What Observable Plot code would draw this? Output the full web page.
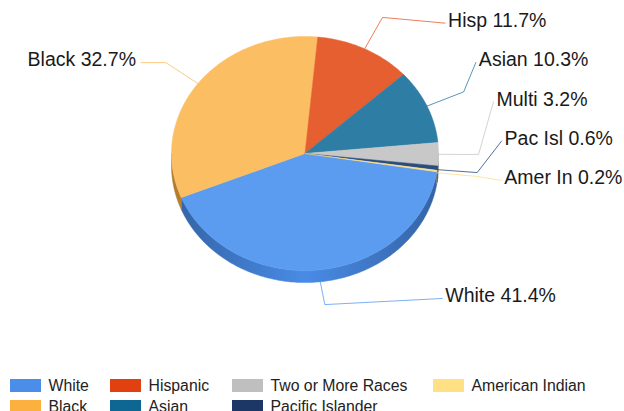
<!DOCTYPE html>
<html><head><meta charset="utf-8">
<script src="https://cdn.jsdelivr.net/npm/d3@7"></script>
<script src="https://cdn.jsdelivr.net/npm/@observablehq/plot@0.6"></script>
<style>
body{margin:0;background:#fff;font-family:"Liberation Sans",Arial,sans-serif;}
#chart svg{display:block;}
#legend{position:relative;width:624px;height:41px;overflow:hidden;}
.item{position:absolute;display:flex;align-items:center;height:13px;}
.sw{width:31px;height:13px;margin-right:7.5px;}
.lt{font-size:15.8px;line-height:13px;color:#222;white-space:nowrap;}
</style></head><body>
<div id="chart"></div>
<div id="legend"></div>
<script>
// ---- data ----
const categories = ["White","Black","Hispanic","Asian","Two or More Races","Pacific Islander","American Indian"];
const shortLabels = ["White","Black","Hisp","Asian","Multi","Pac Isl","Amer In"];
const percents = [41.4, 32.7, 11.7, 10.3, 3.2, 0.6, 0.2];
const legendRows = [[0,2,4,6],[1,3,5]];
// ---- styles ----
const topColors = ["#5b9cf0","#fbbe62","#e55f31","#2e7da5","#c8c8c8","#2b4c80","#fde08a"];
const swatchColors = ["#4a8eea","#fbb040","#e0410e","#0e6693","#bfbfbf","#1c3766","#ffe083"];
const legendCols = [10, 110, 232, 433];
const legendTops = [9, 30];

// ---- geometry (in unit-ellipse coordinates) ----
const startAngle = 99;     // degrees clockwise from 12 o'clock
const depth = 0.103;       // side wall thickness in y units
const elbowR = 1.3;
const lbl = {cx: 0.026, rx: 1.453, cy: -0.051, ry: 1.641, gap: 0.336, top: 1.114, bottom: -1.239};

const total = d3.sum(percents);
let acc = startAngle;
const slices = percents.map((p, i) => {
  const a0 = acc, a1 = acc + p / total * 360; acc = a1;
  return {i, a0, a1, mid: (a0 + a1) / 2};
});
const rad = d => d * Math.PI / 180;
const pt = (a, r = 1, dy = 0) => ({x: r * Math.sin(rad(a)), y: r * Math.cos(rad(a)) + dy});
function arcPts(a0, a1, r = 1, dy = 0) {
  const n = Math.max(2, Math.ceil((a1 - a0) / 1));
  return d3.range(n + 1).map(k => pt(a0 + (a1 - a0) * k / n, r, dy));
}

// side walls (front half only)
const windows = [[90, 270], [450, 630]];
const sideMarks = [];
slices.forEach(s => windows.forEach(([w0, w1]) => {
  const a = Math.max(s.a0, w0), b = Math.min(s.a1, w1);
  if (a >= b) return;
  const poly = [...arcPts(a, b, 1, 0), ...arcPts(a, b, 1, -depth).reverse()];
  sideMarks.push(Plot.line(poly, {x: "x", y: "y", fill: `url(#side${s.i})`, stroke: `url(#side${s.i})`, strokeWidth: 0.5}));
}));

// top faces
const topMarks = slices.map(s => Plot.line(
  [{x: 0, y: 0}, ...arcPts(s.a0, s.a1), {x: 0, y: 0}],
  {x: "x", y: "y", fill: topColors[s.i], stroke: topColors[s.i], strokeWidth: 0.5}));

// labels layout
const labels = slices.map(s => {
  const c = Math.cos(rad(s.mid));
  const dy = -depth * Math.max(0, -c);
  const anchor = pt(s.mid, 1, dy);
  const elbow = pt(s.mid, elbowR);
  return {i: s.i, anchor, elbow, side: Math.sin(rad(s.mid)) >= 0 ? "right" : "left", y: elbow.y,
          text: `${shortLabels[s.i]} ${percents[s.i].toFixed(1)}%`};
});
["right", "left"].forEach(side => {
  const L = labels.filter(d => d.side === side).sort((a, b) => a.y - b.y); // bottom to top
  L.forEach(d => d.y = Math.max(lbl.bottom, Math.min(lbl.top, d.y)));
  for (let k = 1; k < L.length; k++) L[k].y = Math.max(L[k].y, L[k - 1].y + lbl.gap);
  for (let k = L.length - 1; k >= 0; k--) {
    if (k === L.length - 1) L[k].y = Math.min(L[k].y, lbl.top);
    else L[k].y = Math.min(L[k].y, L[k + 1].y - lbl.gap);
  }
  L.forEach(d => {
    const t = (d.y - lbl.cy) / lbl.ry;
    const off = lbl.rx * Math.sqrt(Math.max(0, 1 - t * t));
    d.x = side === "right" ? lbl.cx + off : lbl.cx - off;
  });
});
const leaderMarks = labels.map(d => Plot.line(
  [d.anchor, d.elbow, {x: d.x, y: d.y}],
  {x: "x", y: "y", stroke: topColors[d.i], strokeWidth: 1, strokeOpacity: 0.8}));

const textOpts = {x: "x", y: "y", text: "text", fontSize: 19.5, fill: "#1a1a1a", dy: -2.5,
                  fontFamily: "Liberation Sans, Arial, sans-serif"};

const plot = Plot.plot({
  width: 624, height: 370, margin: 0,
  x: {domain: [-1, 1], range: [171, 438], axis: null},
  y: {domain: [-1, 1], range: [270, 36], axis: null},
  style: {background: "white", fontFamily: "Liberation Sans, Arial, sans-serif", overflow: "visible"},
  marks: [
    ...sideMarks,
    ...topMarks,
    ...leaderMarks,
    Plot.text(labels.filter(d => d.side === "right"), {...textOpts, textAnchor: "start", dx: 3}),
    Plot.text(labels.filter(d => d.side === "left"), {...textOpts, textAnchor: "end", dx: -5})
  ]
});

// gradients for the side walls
const xs = plot.scale("x");
const defs = d3.select(plot).insert("defs", ":first-child");
slices.forEach(s => {
  const c = d3.color(swatchColors[s.i]);
  const g = defs.append("linearGradient").attr("id", "side" + s.i)
    .attr("gradientUnits", "userSpaceOnUse")
    .attr("x1", xs.apply(-1)).attr("x2", xs.apply(1)).attr("y1", 0).attr("y2", 0);
  [[0, c.darker(1)], [0.5, c.darker(0.05)], [1, c.darker(1)]].forEach(([o, col]) =>
    g.append("stop").attr("offset", o).attr("stop-color", col.formatHex()));
});
document.getElementById("chart").appendChild(plot);

// legend
const legend = d3.select("#legend");
legendRows.forEach((row, r) => row.forEach((idx, c) => {
  const it = legend.append("div").attr("class", "item")
    .style("left", legendCols[c] + "px").style("top", legendTops[r] + "px");
  it.append("div").attr("class", "sw").style("background", swatchColors[idx]);
  it.append("div").attr("class", "lt").text(categories[idx]);
}));
</script>
</body></html>
